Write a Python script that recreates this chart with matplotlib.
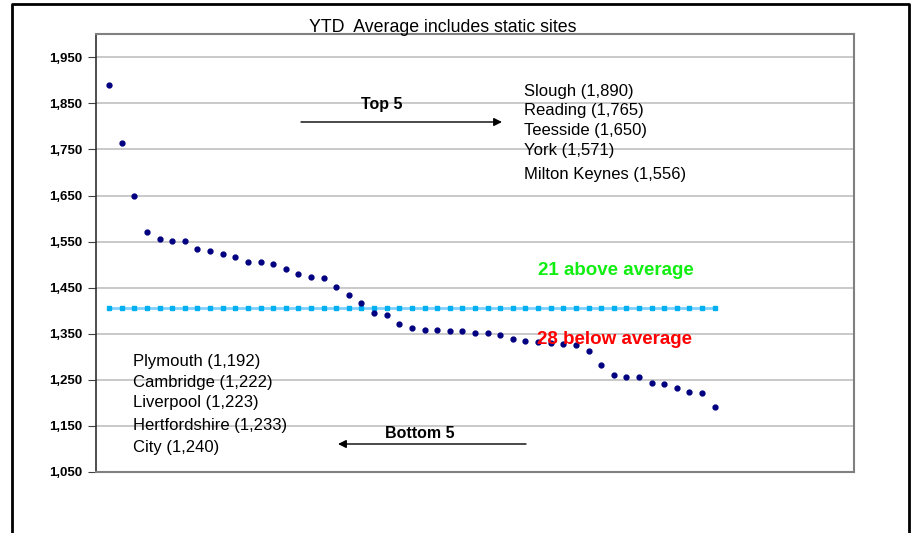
import matplotlib
matplotlib.use("Agg")
import matplotlib.pyplot as plt
from matplotlib.ticker import FuncFormatter

# Site scores, ranked highest to lowest
site_rank = list(range(1, 50))
site_values = [1890, 1765, 1650, 1571, 1556, 1552, 1552, 1533, 1530, 1523,
               1516, 1506, 1505, 1502, 1490, 1479, 1473, 1470, 1451, 1434,
               1417, 1395, 1390, 1371, 1362, 1358, 1358, 1355, 1355, 1352,
               1351, 1347, 1339, 1334, 1332, 1329, 1327, 1325, 1312, 1283,
               1260, 1257, 1256, 1244, 1240, 1233, 1223, 1222, 1192]
average_value = 1407

top5_labels = ["Slough (1,890)", "Reading (1,765)", "Teesside (1,650)",
               "York (1,571)", "Milton Keynes (1,556)"]
bottom5_labels = ["Plymouth (1,192)", "Cambridge (1,222)", "Liverpool (1,223)",
                  "Hertfordshire (1,233)", "City (1,240)"]
y_ticks = [1050, 1150, 1250, 1350, 1450, 1550, 1650, 1750, 1850, 1950]

W, H = 912, 533
fig = plt.figure(figsize=(W / 100, H / 100), dpi=100)
fig.patch.set_facecolor("white")

# outer chart frame (open at the bottom)
fig.add_artist(plt.Line2D([12 / W, 12 / W, 909 / W, 909 / W],
                          [0, 1 - 4 / H, 1 - 4 / H, 0],
                          transform=fig.transFigure, color="black", lw=2))

left, right, top, bottom = 96.5, 853.5, 34.3, 472
ax = fig.add_axes([left / W, 1 - bottom / H, (right - left) / W, (bottom - top) / H])
ax.set_xlim(0, 60)
ax.set_ylim(1050, 2000)

ax.set_yticks(y_ticks)
ax.yaxis.set_major_formatter(FuncFormatter(lambda v, p: f"{int(v):,}"))
narrow = ["Liberation Sans Narrow", "Liberation Sans", "DejaVu Sans"]
for lab in ax.get_yticklabels():
    lab.set_family(narrow)
    lab.set_fontweight("bold")
    lab.set_fontsize(9.5)
ax.tick_params(axis="y", direction="out", length=6, width=0.8, color="#404040", pad=4)
ax.set_xticks([])
ax.yaxis.grid(True, color="#c0c0c0", lw=1.2)
ax.set_axisbelow(True)
for side in ["top", "right", "bottom"]:
    ax.spines[side].set_color("#808080")
    ax.spines[side].set_linewidth(1.5)
ax.spines["left"].set_color("#303030")
ax.spines["left"].set_linewidth(1.2)

# average line
ax.plot(site_rank, [average_value] * len(site_rank), color="#7fd0ff", lw=2.0,
        marker="s", markersize=3.5, markerfacecolor="#00b0f0",
        markeredgecolor="#00b0f0", zorder=3)
# site points
ax.plot(site_rank, site_values, linestyle="none", marker="o", markersize=3.5,
        color="#000080", zorder=4)

# title
fig.text(443 / W, 1 - 27 / H, "YTD  Average includes static sites",
         ha="center", va="center", fontsize=12.8, family=narrow)

def px(x, y):
    return (x / W, 1 - y / H)

# top five
fig.text(*px(382, 104), "Top 5", ha="center", va="center",
         fontsize=11.5, fontweight="bold", family=narrow)
fig.add_artist(plt.Annotation("", xy=px(502, 122), xytext=px(301, 122),
                              xycoords="figure fraction", textcoords="figure fraction",
                              arrowprops=dict(arrowstyle="-|>", color="black", lw=1,
                                              mutation_scale=12, shrinkA=0, shrinkB=0)))
for lab, yy in zip(top5_labels, [91.5, 111, 130.5, 151, 174.5]):
    fig.text(*px(524, yy), lab, ha="left", va="center", fontsize=12,
             family=["Liberation Sans"])

# bottom five
fig.text(*px(420, 434), "Bottom 5", ha="center", va="center",
         fontsize=11.5, fontweight="bold", family=narrow)
fig.add_artist(plt.Annotation("", xy=px(338, 444), xytext=px(526, 444),
                              xycoords="figure fraction", textcoords="figure fraction",
                              arrowprops=dict(arrowstyle="-|>", color="black", lw=1,
                                              mutation_scale=12, shrinkA=0, shrinkB=0)))
for lab, yy in zip(bottom5_labels, [361.5, 382, 403, 425.5, 447.5]):
    fig.text(*px(133, yy), lab, ha="left", va="center", fontsize=12,
             family=["Liberation Sans"])

# above / below counts
fig.text(*px(616, 270.5), "21 above average", ha="center", va="center",
         fontsize=13.5, fontweight="bold", color="#11ee11", family=["Liberation Sans"])
fig.text(*px(615, 339), "28 below average", ha="center", va="center",
         fontsize=13.5, fontweight="bold", color="#ff0000", family=["Liberation Sans"])

fig.savefig("out.png", dpi=100)
